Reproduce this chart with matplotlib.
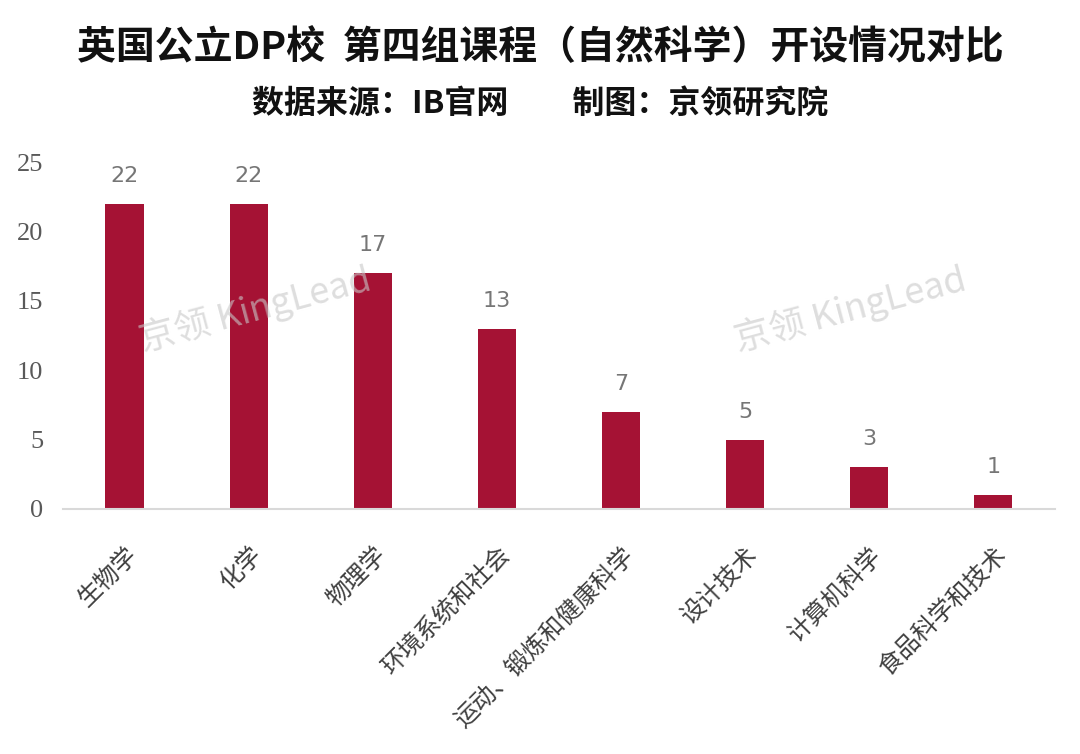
import matplotlib.pyplot as plt

plt.rcParams['font.family'] = ['Noto Sans CJK SC', 'DejaVu Sans']

courses = ["生物学", "化学", "物理学", "环境系统和社会", "运动、锻炼和健康科学",
           "设计技术", "计算机科学", "食品科学和技术"]
schools = [22, 22, 17, 13, 7, 5, 3, 1]
y_ticks = [0, 5, 10, 15, 20, 25]

title = "英国公立DP校  第四组课程（自然科学）开设情况对比"
subtitle = "数据来源：IB官网　　制图：京领研究院"
watermark = "京领 KingLead"


def main():
    fig = plt.figure(figsize=(10.8, 7.54), dpi=100)
    ax = fig.add_axes([0.058, 0.325, 0.919, 0.46])

    x = range(len(courses))
    bars = ax.bar(x, schools, width=0.31, color="#A51234", zorder=2)
    for b, v in zip(bars, schools):
        ax.text(b.get_x() + b.get_width() / 2, v + 1.3, str(v), ha="center",
                va="bottom", fontsize=16, color="#767676", family="DejaVu Sans")

    ax.set_xlim(-0.5, len(courses) - 0.5)
    ax.set_ylim(0, 25)
    ax.set_yticks(y_ticks)
    ax.set_yticklabels([str(t) for t in y_ticks], family="Liberation Serif",
                       fontsize=19, color="#595959")
    ax.set_xticks(list(x))
    ax.set_xticklabels(courses, rotation=45, ha="right", rotation_mode="anchor",
                       fontsize=17.5, color="#404040")
    ax.tick_params(axis="both", length=0)
    ax.tick_params(axis="x", pad=24)
    ax.tick_params(axis="y", pad=14)
    for s in ["top", "right", "left"]:
        ax.spines[s].set_visible(False)
    ax.spines["bottom"].set_color("#d9d9d9")
    ax.spines["bottom"].set_linewidth(1.5)

    fig.text(0.5, 0.937, title, ha="center", va="center", fontsize=28,
             fontweight="bold", color="#111111")
    fig.text(0.5, 0.862, subtitle, ha="center", va="center", fontsize=23,
             fontweight="bold", color="#111111")

    for wx in [0.236, 0.787]:
        fig.text(wx, 0.59, watermark, ha="center", va="center", fontsize=26,
                 color="#c8c8c8", alpha=0.6, rotation=15, zorder=5)

    fig.savefig("out.png", dpi=100)


if __name__ == '__main__':
    main()
